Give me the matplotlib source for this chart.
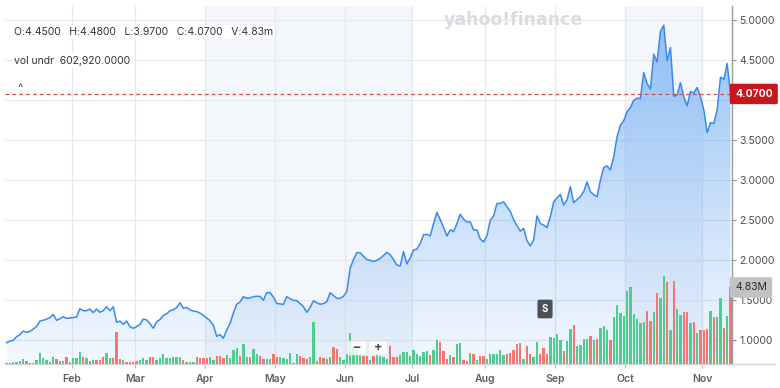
import matplotlib.pyplot as plt
import numpy as np
from matplotlib.patches import FancyBboxPatch
from matplotlib.lines import Line2D

plt.rcParams['font.family'] = ['Inter', 'DejaVu Sans']

# trading sessions counted per month on the chart (Jan .. Nov)
month_names = ['Jan', 'Feb', 'Mar', 'Apr', 'May', 'Jun', 'Jul', 'Aug', 'Sep', 'Oct', 'Nov']
month_sessions = [20, 19, 21, 21, 21, 20, 22, 21, 21, 23, 9]

# daily close
close = [
    0.96, 0.98, 0.99, 1.035, 1.06, 1.105, 1.09, 1.10, 1.13, 1.16, 1.23, 1.24, 1.256, 1.27, 1.315, 1.24, 1.26, 1.285, 1.265, 1.27,
    1.275, 1.28, 1.385, 1.36, 1.36, 1.38, 1.335, 1.38, 1.34, 1.36, 1.41, 1.36, 1.41, 1.215, 1.23, 1.19, 1.23, 1.16, 1.14,
    1.16, 1.19, 1.256, 1.245, 1.20, 1.14, 1.22, 1.25, 1.30, 1.32, 1.36, 1.37, 1.40, 1.46, 1.39, 1.40, 1.37, 1.355, 1.35, 1.33, 1.30,
    1.27, 1.235, 1.18, 1.04, 1.06, 1.015, 1.12, 1.20, 1.33, 1.44, 1.47, 1.535, 1.515, 1.52, 1.535, 1.54, 1.54, 1.49, 1.585, 1.585, 1.53,
    1.45, 1.445, 1.44, 1.535, 1.51, 1.49, 1.485, 1.45, 1.41, 1.34, 1.40, 1.485, 1.46, 1.44, 1.45, 1.47, 1.585, 1.55, 1.515, 1.515, 1.54,
    1.60, 1.89, 2.00, 2.085, 2.085, 2.04, 2.00, 1.99, 1.975, 1.99, 2.015, 2.05, 2.09, 2.06, 2.00, 1.93, 1.92, 2.10, 1.945, 2.02,
    2.12, 2.13, 2.20, 2.31, 2.315, 2.295, 2.45, 2.59, 2.50, 2.40, 2.295, 2.37, 2.35, 2.45, 2.565, 2.505, 2.47, 2.47, 2.37, 2.37, 2.255, 2.22,
    2.295, 2.49, 2.545, 2.70, 2.70, 2.72, 2.66, 2.60, 2.50, 2.42, 2.355, 2.39, 2.235, 2.17, 2.245, 2.545, 2.45, 2.43, 2.40, 2.535, 2.72,
    2.77, 2.815, 2.68, 2.745, 2.91, 2.71, 2.75, 2.785, 2.85, 2.97, 2.85, 2.81, 2.785, 2.99, 3.15, 3.17, 3.12, 3.285, 3.535, 3.68, 3.735,
    3.85, 3.90, 3.99, 4.015, 4.015, 4.335, 4.20, 4.13, 4.565, 4.47, 4.85, 4.93, 4.485, 4.65, 4.04, 4.055, 4.21, 4.035, 3.92, 4.10, 4.08, 4.15, 4.035,
    3.87, 3.585, 3.71, 3.70, 3.87, 4.28, 4.25, 4.45, 4.07,
]

# daily volume in millions
volume = [
    0.06, 0.11, 0.15, 0.17, 0.21, 0.34, 0.19, 0.11, 0.06, 0.27, 0.73, 0.38, 0.27, 0.17, 0.44, 0.31, 0.21, 0.21, 0.48, 0.17,
    0.38, 0.38, 0.80, 0.44, 0.38, 0.21, 0.27, 0.27, 0.27, 0.48, 0.73, 0.38, 0.38, 2.05, 0.31, 0.27, 0.17, 0.17, 0.17,
    0.23, 0.27, 0.38, 0.27, 0.44, 0.44, 0.27, 0.38, 0.63, 0.38, 0.42, 0.48, 0.48, 0.48, 0.27, 0.13, 0.13, 0.13, 0.48, 0.38, 0.38,
    0.38, 0.48, 0.27, 0.52, 0.52, 0.38, 0.59, 0.38, 0.90, 1.05, 0.52, 1.26, 0.48, 0.44, 0.96, 0.65, 0.52, 0.31, 0.31, 0.31, 0.63,
    0.48, 0.44, 0.38, 0.31, 0.69, 0.10, 0.63, 0.52, 0.38, 0.31, 0.44, 2.68, 0.23, 0.48, 0.38, 0.31, 0.44, 1.11, 0.94, 0.44, 0.27,
    0.63, 1.95, 1.11, 0.90, 0.63, 0.52, 0.52, 0.27, 0.52, 0.63, 0.52, 0.45, 0.35, 1.15, 0.46, 0.46, 0.57, 0.78, 0.78, 0.50,
    0.88, 0.67, 0.50, 0.78, 0.84, 0.57, 0.92, 1.51, 1.40, 0.84, 0.36, 0.57, 0.46, 1.30, 1.34, 0.25, 0.21, 0.71, 0.63, 0.25, 0.55, 0.50,
    0.36, 0.63, 0.63, 0.63, 0.92, 0.57, 0.67, 0.71, 0.88, 1.30, 1.34, 0.36, 1.13, 0.67, 0.46, 1.40, 0.63, 1.05, 0.63, 1.72, 1.68,
    1.93, 1.55, 0.84, 1.47, 2.24, 2.45, 1.13, 1.19, 1.61, 1.57, 1.76, 1.55, 1.61, 2.31, 2.39, 2.18, 1.51, 2.98, 3.71, 3.23, 3.02,
    4.61, 4.84, 3.17, 2.83, 2.62, 2.68, 3.35, 2.75, 3.31, 4.47, 4.15, 5.56, 5.14, 2.16, 5.20, 3.46, 3.10, 3.31, 3.31, 2.62, 2.68, 1.95, 2.16,
    2.16, 2.22, 3.35, 2.94, 3.00, 4.15, 2.26, 3.06, 4.83,
]

# 1 = up day (green bar), 0 = down day (red bar)
up = [
    1, 1, 1, 1, 1, 1, 0, 1, 1, 1, 1, 1, 1, 1, 1, 0, 1, 1, 0, 1,
    1, 1, 1, 0, 1, 0, 1, 0, 0, 0, 1, 1, 0, 0, 0, 1, 0, 0, 0,
    0, 1, 1, 1, 0, 0, 1, 1, 1, 1, 1, 1, 1, 1, 0, 1, 1, 1, 0, 0, 0,
    0, 1, 1, 0, 0, 0, 1, 1, 1, 1, 0, 1, 1, 0, 1, 1, 0, 0, 1, 1, 0,
    0, 1, 1, 1, 1, 0, 1, 0, 0, 0, 1, 1, 0, 0, 0, 1, 1, 0, 0, 1, 1,
    1, 1, 1, 1, 1, 0, 0, 1, 0, 1, 1, 1, 1, 0, 0, 0, 1, 1, 1, 1,
    1, 1, 1, 1, 1, 0, 1, 1, 0, 0, 0, 1, 0, 1, 1, 0, 0, 1, 0, 1, 0, 0,
    1, 1, 1, 1, 1, 1, 0, 0, 0, 0, 0, 1, 0, 0, 1, 1, 0, 0, 0, 1, 1,
    1, 1, 0, 1, 1, 0, 1, 1, 1, 1, 0, 1, 0, 1, 1, 1, 0, 1, 1, 1, 1,
    1, 1, 1, 1, 1, 1, 0, 0, 1, 0, 1, 1, 0, 1, 0, 1, 1, 0, 0, 1, 0, 1, 0,
    0, 0, 1, 0, 1, 1, 0, 1, 0,
]

price_ticks = [1.0, 1.5, 2.0, 2.5, 3.0, 3.5, 4.0, 4.5, 5.0]
shaded_months = [('Apr', 'Jul'), ('Oct', 'Nov')]
last_close = 4.07
last_volume = 4.83
header = 'O:4.4500   H:4.4800   L:3.9700   C:4.0700   V:4.83m'
study = 'vol undr  602,920.0000'

W, H = 780, 388
x = np.arange(len(close))
starts = np.concatenate([[0], np.cumsum(month_sessions)[:-1]]) - 0.5
month_pos = dict(zip(month_names + ['end'], list(starts) + [len(close) - 0.5]))

fig = plt.figure(figsize=(W / 100, H / 100), dpi=100)
rect = [5 / W, (H - 364.3) / H, 726.5 / W, 358.3 / H]
ax = fig.add_axes(rect)
ax_v = fig.add_axes(rect, sharex=ax)
ax_l = fig.add_axes(rect, sharex=ax, sharey=ax)
ax.set_zorder(1)
ax_v.set_zorder(2)
ax_l.set_zorder(3)

ymin, ymax = 0.69, 5.169
x0, x1 = -0.45, len(close) - 0.7

# background bands and grid
for a, b in shaded_months:
    ax.axvspan(month_pos[a], month_pos[b], color='#f3f6fb', lw=0, zorder=0.2)
ax.set_axisbelow(True)
ax.grid(color='#e7e9ec', lw=0.9)

# gradient area under the line
fill = ax.fill_between(x, close, ymin, facecolor='none', edgecolor='none')
grad = np.zeros((256, 1, 4))
grad[:, 0, 0] = 66 / 255
grad[:, 0, 1] = 146 / 255
grad[:, 0, 2] = 240 / 255
grad[:, 0, 3] = np.linspace(0.06, 0.58, 256)
im = ax.imshow(grad, extent=[x0, x1, ymin, ymax], origin='lower', aspect='auto', zorder=0.8)
im.set_clip_path(fill.get_paths()[0], transform=ax.transData)

ax.set_xlim(x0, x1)
ax.set_ylim(ymin, ymax)
ax.set_yticks(price_ticks)
# the 4.0000 label sits under the last-price box
ax.set_yticklabels(['' if abs(t - 4.0) < 1e-9 else '%.4f' % t for t in price_ticks])
ax.set_xticks([month_pos[m] for m in month_names[1:]])
ax.set_xticklabels(month_names[1:])
ax.yaxis.tick_right()
ax.tick_params(axis='y', length=3, width=0.8, color='#8c8c8c', pad=2.5, labelsize=7.5, labelcolor='#464e56')
ax.tick_params(axis='x', length=3, width=0.8, color='#b5b8bc', pad=4, labelsize=7.5, labelcolor='#5a6168')
for lab in ax.get_xticklabels():
    lab.set_fontweight('semibold')
for s in ['top', 'left', 'bottom']:
    ax.spines[s].set_visible(False)
ax.spines['right'].set_color('#9a9a9a')
ax.spines['right'].set_linewidth(1)

# volume bars
colors = ['#4ecd8f' if u else '#f2786e' for u in up]
ax_v.bar(x, volume, width=0.7, color=colors, lw=0)
ax_v.set_ylim(0, 22.5)
ax_v.axis('off')
ax_v.text((735 - 5) / 726.5, last_volume, '%.2fM' % last_volume, transform=ax_v.get_yaxis_transform(),
          ha='left', va='center', fontsize=7.5, color='#2b2b2b', clip_on=False,
          bbox=dict(boxstyle='round,pad=0.5,rounding_size=0.15', fc='#c2c2c2', ec='none'))

# price line and last price marker
ax_l.plot(x, close, color='#3a89ef', lw=1.1)
ax_l.axhline(last_close, color='#e2474c', lw=0.9, ls=(0, (3, 2.5)))
ax_l.axis('off')
ax_l.text((735 - 5) / 726.5, last_close, '%.4f' % last_close, transform=ax_l.get_yaxis_transform(),
          ha='left', va='center', fontsize=7.5, color='white', fontweight='bold', clip_on=False,
          bbox=dict(boxstyle='round,pad=0.5,rounding_size=0.15', fc='#c8161c', ec='none'))

# bottom axis line running under the labels
fig.add_artist(Line2D([5 / W, 775 / W], [(H - 364.3) / H] * 2, color='#d3d5d8', lw=1))

# header texts
fig.text(14 / W, 1 - 32 / H, header, fontsize=7.5, color='#333333', va='center', zorder=10,
         bbox=dict(fc='white', ec='none', pad=1.5))
fig.text(14 / W, 1 - 61 / H, study, fontsize=7.5, color='#333333', va='center', zorder=10,
         bbox=dict(fc='white', ec='none', pad=1.5))
fig.text(20 / W, 1 - 88 / H, '^', fontsize=8, color='#444444', ha='center', va='center', zorder=10)
fig.text(513 / W, 1 - 20 / H, 'yahoo!finance', fontsize=12.5, fontweight='heavy', color='#d9dbe0',
         ha='center', va='center', zorder=5, family=['DejaVu Sans'])

# event badge
fig.text(545 / W, 1 - 309 / H, 'S', fontsize=7, color='white', fontweight='bold', ha='center', va='center',
         zorder=10, bbox=dict(boxstyle='round,pad=0.45,rounding_size=0.2', fc='#4d5157', ec='none'))

# zoom buttons
for cx, sym in [(357, '\u2212'), (378, '+')]:
    fig.add_artist(FancyBboxPatch(((cx - 9.5) / W, 1 - 355 / H), 19 / W, 14 / H,
                                  boxstyle='round,pad=0,rounding_size=0.004', transform=fig.transFigure,
                                  fc='white', ec='#e2e4e7', lw=0.6, alpha=0.8, zorder=9))
    fig.text(cx / W, 1 - 348 / H, sym, fontsize=9, color='#444444', fontweight='bold',
             ha='center', va='center', zorder=10)

fig.savefig('out.png', dpi=100)
